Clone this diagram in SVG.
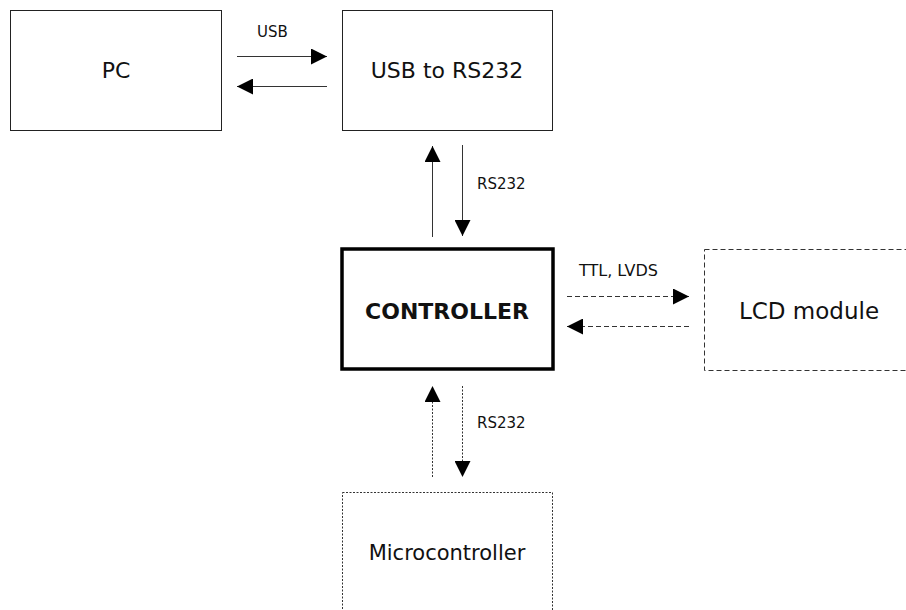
<svg xmlns="http://www.w3.org/2000/svg" width="906" height="610" viewBox="0 0 906 610">
<defs>
<style>
.box{fill:#fff;stroke:#222;stroke-width:1}
.thick{fill:#fff;stroke:#000;stroke-width:3.5}
.dash{fill:#fff;stroke:#333;stroke-width:1;stroke-dasharray:5 3}
.dot{fill:#fff;stroke:#333;stroke-width:1;stroke-dasharray:2 1.5}
.ln{fill:none;stroke:#333;stroke-width:1}
.lnd{fill:none;stroke:#333;stroke-width:1;stroke-dasharray:5 3}
.lnt{fill:none;stroke:#333;stroke-width:1;stroke-dasharray:2 1.5}
.big{font-family:"DejaVu Sans",sans-serif;font-size:22px;fill:#111;text-anchor:middle}
.bold{font-family:"DejaVu Sans",sans-serif;font-size:22px;font-weight:bold;fill:#111;text-anchor:middle}
.sm{font-family:"DejaVu Sans",sans-serif;font-size:15px;fill:#111}
</style>
<marker id="ah" markerUnits="userSpaceOnUse" markerWidth="16" markerHeight="16" viewBox="0 0 16 16" refX="16" refY="8" orient="auto">
<path d="M0,0 L16,8 L0,16 Z" fill="#000"/>
</marker>
</defs>
<g id="pc"><rect class="box" x="10.5" y="10.5" width="211" height="120"/><text class="big" x="116" y="78">PC</text></g>
<g id="usb2rs232"><rect class="box" x="342.5" y="10.5" width="210" height="120"/><text class="big" x="447" y="78">USB to RS232</text></g>
<g id="controller"><rect class="thick" x="342" y="249" width="211" height="120"/><text class="bold" x="447" y="319">CONTROLLER</text></g>
<g id="lcd"><rect class="dash" x="704.5" y="249.5" width="220" height="121"/><text class="big" x="809" y="319" style="font-size:23px">LCD module</text></g>
<g id="mcu"><rect class="dot" x="342.5" y="492.5" width="210" height="130"/><text class="big" x="447" y="560" style="font-size:21px">Microcontroller</text></g>
<g id="connectors">
<line class="ln" x1="237" y1="56.5" x2="327" y2="56.5" marker-end="url(#ah)"/>
<line class="ln" x1="327" y1="86.5" x2="237" y2="86.5" marker-end="url(#ah)"/>
<line class="ln" x1="432.5" y1="237" x2="432.5" y2="146" marker-end="url(#ah)"/>
<line class="ln" x1="462.5" y1="145" x2="462.5" y2="236" marker-end="url(#ah)"/>
<line class="lnd" x1="567" y1="296.5" x2="689" y2="296.5" marker-end="url(#ah)"/>
<line class="lnd" x1="689" y1="326.5" x2="567" y2="326.5" marker-end="url(#ah)"/>
<line class="lnt" x1="432.5" y1="477" x2="432.5" y2="386" marker-end="url(#ah)"/>
<line class="lnt" x1="462.5" y1="386" x2="462.5" y2="477" marker-end="url(#ah)"/>
<text class="sm" x="257" y="37">USB</text>
<text class="sm" x="477" y="189">RS232</text>
<text class="sm" x="579" y="276" style="font-size:16px">TTL, LVDS</text>
<text class="sm" x="477" y="428">RS232</text>
</g>
</svg>
